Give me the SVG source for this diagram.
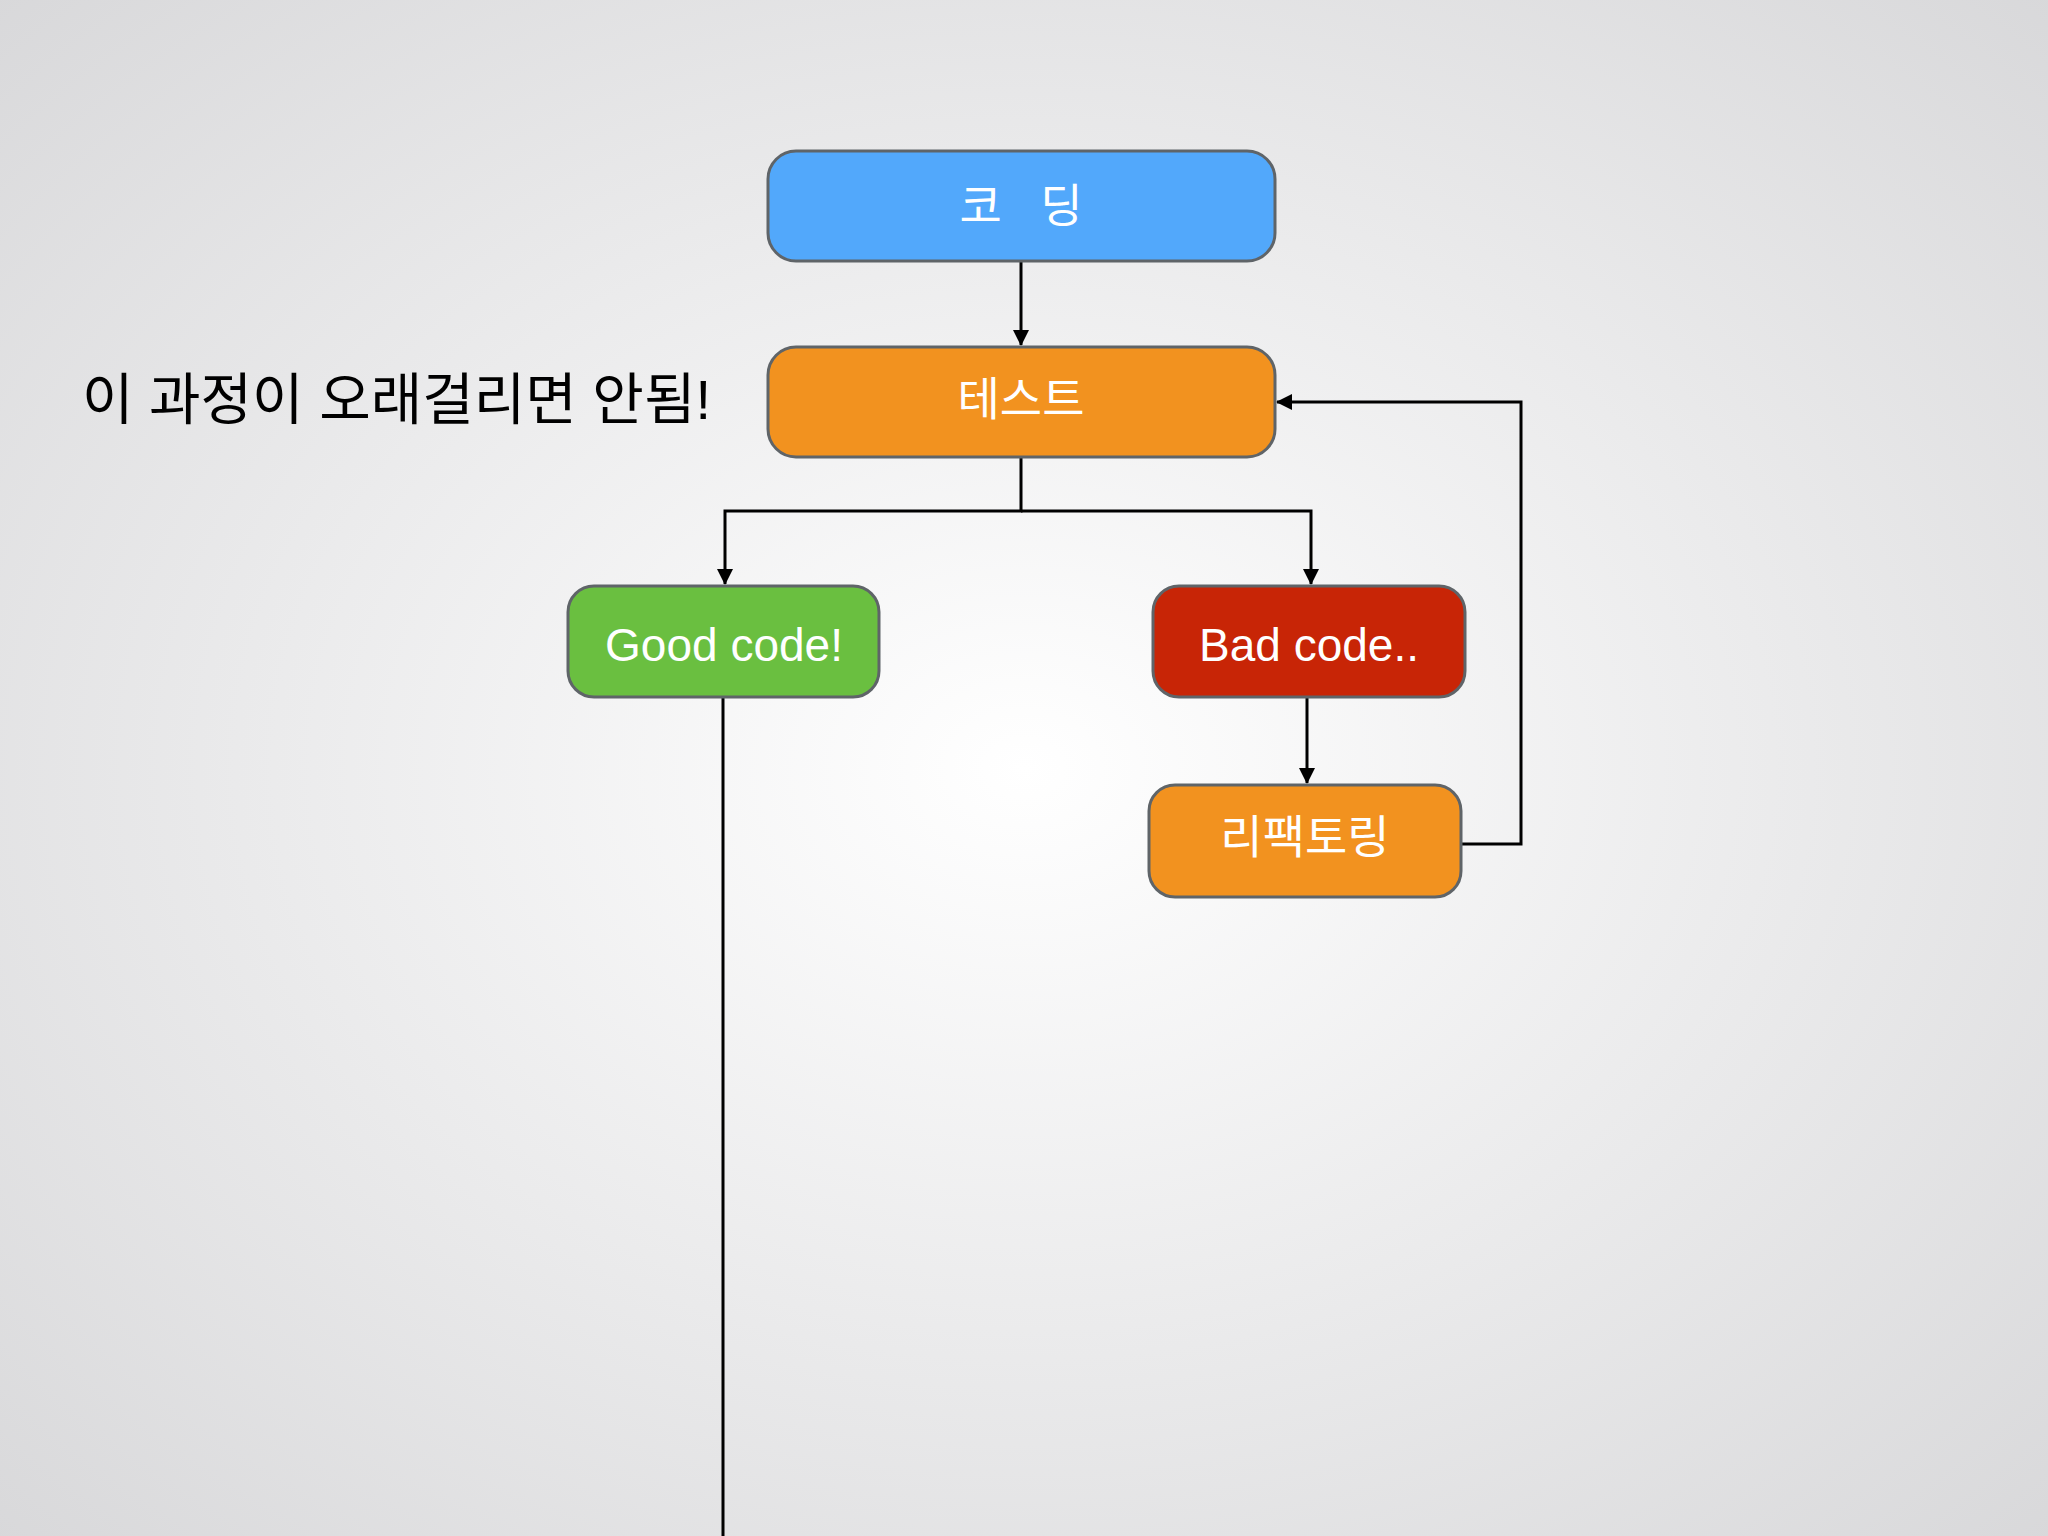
<svg xmlns="http://www.w3.org/2000/svg" width="2048" height="1536" viewBox="0 0 2048 1536">
<defs>
<radialGradient id="bg" cx="0.5" cy="0.5" r="0.75">
<stop offset="0" stop-color="#ffffff"/><stop offset="1" stop-color="#d6d6d8"/>
</radialGradient>
<marker id="ah" markerWidth="16" markerHeight="16" refX="15" refY="8" orient="auto" markerUnits="userSpaceOnUse" viewBox="0 0 16 16">
<path d="M0,0 L16,8 L0,16 z" fill="#000"/>
</marker>
<style>
.box{stroke:#5f6468;stroke-width:3}
.lbl{font-family:"Liberation Sans","Noto Sans CJK KR",sans-serif;font-size:46px;fill:#fff;text-anchor:middle}
.ln{fill:none;stroke:#000;stroke-width:3}
</style>
</defs>
<rect width="2048" height="1536" fill="url(#bg)"/>
<g id="connectors">
<path class="ln" d="M1021,261 V345" marker-end="url(#ah)"/>
<path class="ln" d="M1021,457 V511 H725 V584" marker-end="url(#ah)"/>
<path class="ln" d="M1021,511 H1311 V584" marker-end="url(#ah)"/>
<path class="ln" d="M723,697 V1536"/>
<path class="ln" d="M1307,697 V783" marker-end="url(#ah)"/>
<path class="ln" d="M1461,844 H1521 V402 H1277" marker-end="url(#ah)"/>
</g>
<g id="coding"><rect class="box" x="768" y="151" width="507" height="110" rx="28" fill="#52a8fb"/><text class="lbl" x="1021" y="222" xml:space="preserve">코   딩</text></g>
<g id="test"><rect class="box" x="768" y="347" width="507" height="110" rx="28" fill="#f2921f"/><text class="lbl" x="1021" y="415">테스트</text></g>
<g id="good"><rect class="box" x="568" y="586" width="311" height="111" rx="26" fill="#6abf40"/><text class="lbl" x="724" y="661">Good code!</text></g>
<g id="bad"><rect class="box" x="1153" y="586" width="312" height="111" rx="26" fill="#c82506"/><text class="lbl" x="1309" y="661">Bad code..</text></g>
<g id="refactor"><rect class="box" x="1149" y="785" width="312" height="112" rx="26" fill="#f2921f"/><text class="lbl" x="1305" y="853">리팩토링</text></g>
<text x="82" y="419" font-family="'Liberation Sans','Noto Sans CJK KR',sans-serif" font-size="56" fill="#000">이 과정이 오래걸리면 안됨!</text>
</svg>
